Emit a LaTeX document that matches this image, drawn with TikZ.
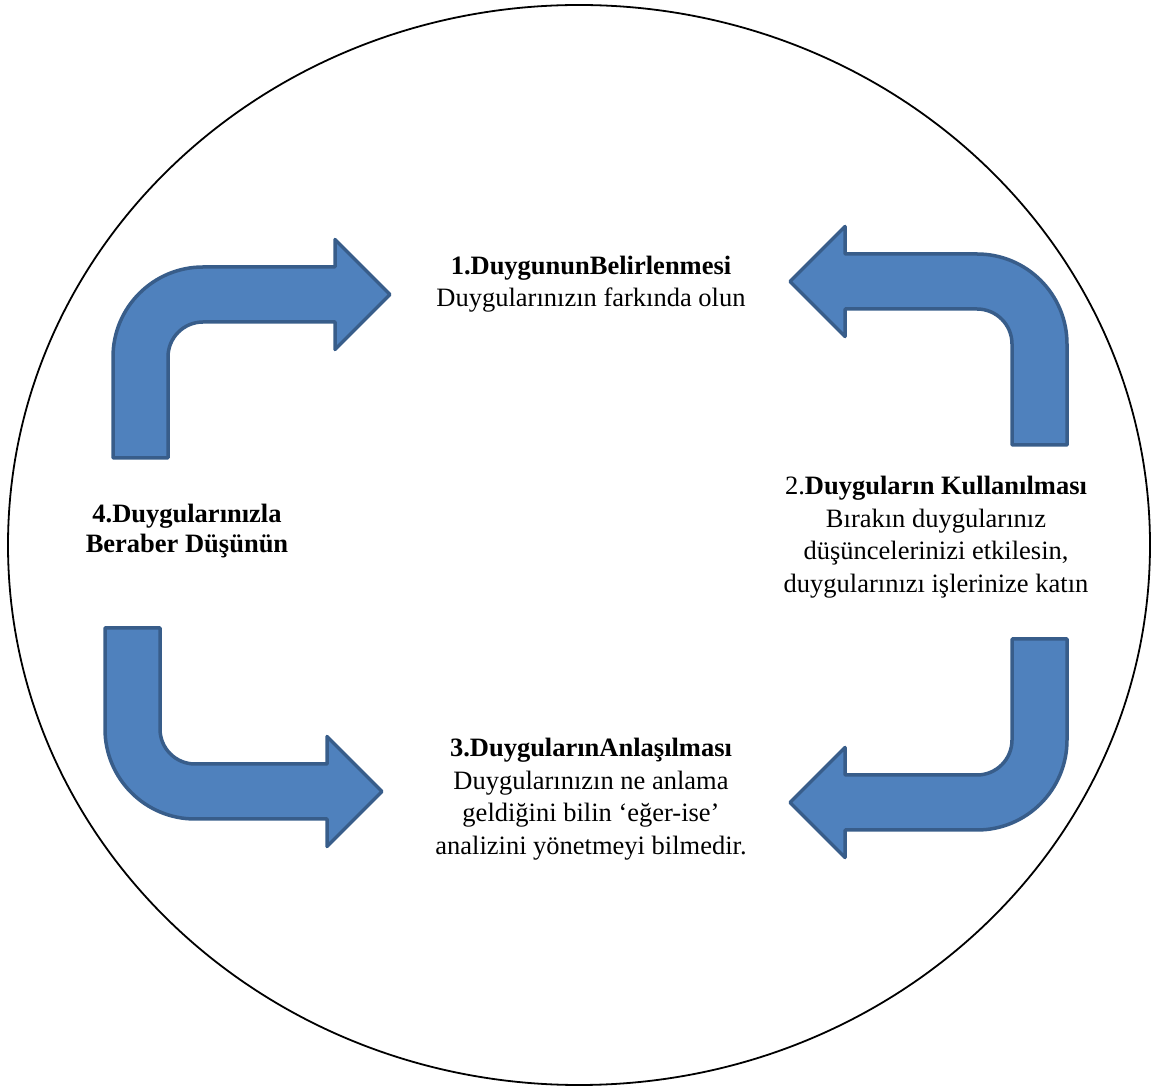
\documentclass[tikz,border=0pt]{standalone}
\usepackage{fontspec}
\setmainfont{Liberation Serif}
\usetikzlibrary{positioning}
\definecolor{arrowfill}{HTML}{4F81BD}
\definecolor{arrowline}{HTML}{385D8A}

\tikzset{bentarrow/.pic={
    \draw[arrowline,fill=arrowfill,line width=3.5pt,line join=round]
      (-90,-101) -- (-90,0) arc[start angle=180,end angle=90,radius=90pt]
      -- (132,90) -- (132,117.5) -- (187,62.5) -- (132,7.5) -- (132,35)
      -- (0,35) arc[start angle=90,end angle=180,radius=35pt]
      -- (-35,-101) -- cycle;}}

\begin{document}
\begin{tikzpicture}[x=1pt,y=1pt,
          stage/.style={align=center,inner sep=0pt,
              font=\fontsize{26.5}{32.5}\selectfont}]
        \useasboundingbox (0,0) rectangle (1157,1088);
        \draw[line width=1.8pt] (579,543) ellipse[x radius=571pt,y radius=540pt];

        \pic at (203,731) {bentarrow};
        \pic[xscale=-1] at (977,744) {bentarrow};
        \pic[xscale=-1,yscale=-1] at (977,348) {bentarrow};
        \pic[yscale=-1] at (195,359) {bentarrow};

        \node[stage] (ident) at (591,804)
          {\textbf{1.DuygununBelirlenmesi}\\Duygularınızın farkında olun};
        \node[stage] (use) at (936,551)
          {2.\textbf{Duyguların Kullanılması}\\Bırakın duygularınız\\
           düşüncelerinizi etkilesin,\\duygularınızı işlerinize katın};
        \node[stage] (understand) at (591,289)
          {\textbf{3.DuygularınAnlaşılması}\\Duygularınızın ne anlama\\
           geldiğini bilin ‘eğer-ise’\\analizini yönetmeyi bilmedir.};
        \node[stage,font=\fontsize{26.5}{30}\selectfont\bfseries] (think) at (187,557)
          {4.Duygularınızla\\Beraber Düşünün};
      \end{tikzpicture}
\end{document}
